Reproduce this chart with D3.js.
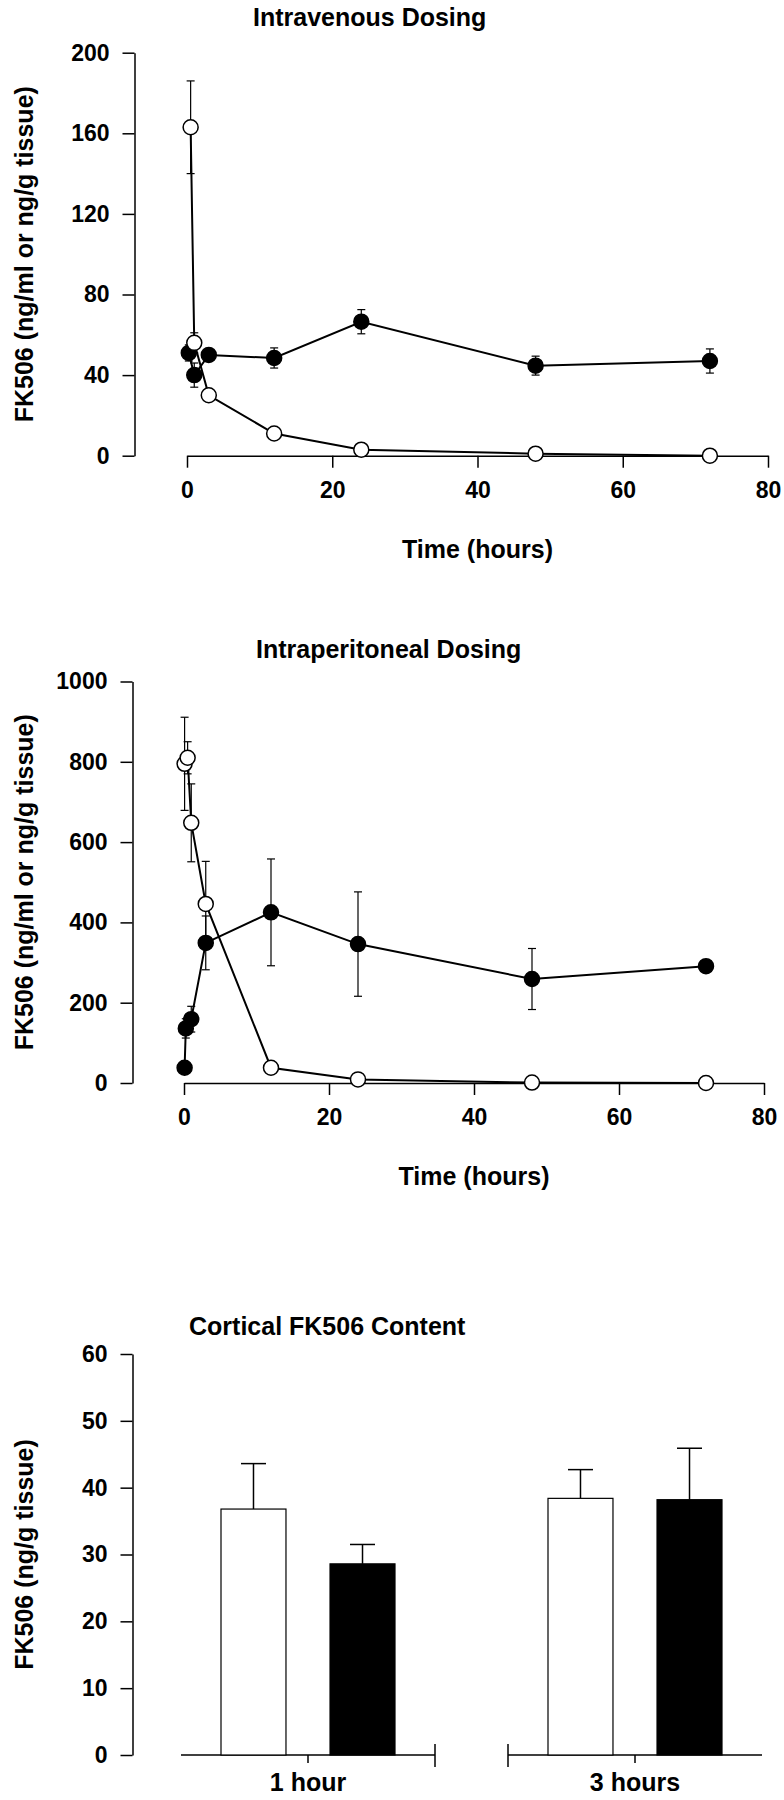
<!DOCTYPE html>
<html>
<head>
<meta charset="utf-8">
<script src="https://cdn.jsdelivr.net/npm/d3@7"></script>
<style>
body { margin: 0; background: #fff; }
text { font-family: "Liberation Sans", Arial, sans-serif; font-weight: bold; fill: #000; }
</style>
</head>
<body>
<svg id="chart" width="784" height="1800"></svg>
<script>
// intravenous dosing, open = plasma, filled = tissue
var ivOpenTime = [0.5, 1, 3, 12, 24, 48, 72];
var ivOpen = [163, 56, 30, 11, 3, 1, 0];
var ivOpenErr = [23, 5, 0, 0, 0, 0, 0];
var ivFilledTime = [0.25, 1, 3, 12, 24, 48, 72];
var ivFilled = [51, 40, 50, 48.5, 66.5, 44.7, 47];
var ivFilledErr = [4, 6, 0, 5, 6, 4.7, 6];

// intraperitoneal dosing
var ipOpenTime = [0.083, 0.5, 1, 3, 12, 24, 48, 72];
var ipOpen = [795, 810, 648, 446, 38, 9, 1, 0];
var ipOpenErr = [116, 40, 97, 106, 0, 0, 0, 0];
var ipFilledTime = [0.083, 0.25, 1, 3, 12, 24, 48, 72];
var ipFilled = [38, 136, 159, 349, 425, 346, 259, 291];
var ipFilledErr = [0, 24, 32, 67, 133, 130, 76, 10];

// cortical content
var cortCats = ["1 hour", "3 hours"];
var cortOpen = [36.8, 38.4];
var cortOpenErr = [6.8, 4.3];
var cortFilled = [28.6, 38.2];
var cortFilledErr = [2.9, 7.7];

var timeTicks = [0, 20, 40, 60, 80];
var ivTicks = [0, 40, 80, 120, 160, 200];
var ipTicks = [0, 200, 400, 600, 800, 1000];
var cortTicks = [0, 10, 20, 30, 40, 50, 60];

var svg = d3.select("#chart");

function styleAxis(a) {
    a.attr("font-family", null).attr("font-size", null);
    a.selectAll("path, line").attr("stroke", "#000").attr("stroke-width", 1.5);
    a.selectAll("text").style("font-size", "23px");
}

function yLabel(text, cy) {
    svg.append("text").text(text)
        .attr("transform", "translate(33," + cy + ") rotate(-90)")
        .attr("text-anchor", "middle")
        .style("font-size", "25px");
}

function drawSeries(g, x, y, times, vals, errs, filled) {
    var pts = times.map(function (t, i) { return {t: t, v: vals[i], e: errs[i]}; });
    var eb = g.selectAll(null).data(pts.filter(function (d) { return d.e > 0; })).enter().append("g");
    eb.append("line")
        .attr("x1", function (d) { return x(d.t); }).attr("x2", function (d) { return x(d.t); })
        .attr("y1", function (d) { return y(d.v - d.e); }).attr("y2", function (d) { return y(d.v + d.e); })
        .style("stroke", "#000").style("stroke-width", 1.2);
    [-1, 1].forEach(function (s) {
        eb.append("line")
            .attr("x1", function (d) { return x(d.t) - 4; }).attr("x2", function (d) { return x(d.t) + 4; })
            .attr("y1", function (d) { return y(d.v + s * d.e); }).attr("y2", function (d) { return y(d.v + s * d.e); })
            .style("stroke", "#000").style("stroke-width", 1.2);
    });
    g.append("path").datum(pts)
        .attr("d", d3.line().x(function (d) { return x(d.t); }).y(function (d) { return y(d.v); }))
        .style("fill", "none").style("stroke", "#000").style("stroke-width", 2);
    g.selectAll(null).data(pts).enter().append("circle")
        .attr("cx", function (d) { return x(d.t); })
        .attr("cy", function (d) { return y(d.v); })
        .attr("r", 7.5)
        .style("fill", filled ? "#000" : "#fff")
        .style("stroke", "#000").style("stroke-width", 1.5);
}

function timeCourse(o) {
    var x = d3.scaleLinear().domain([0, 80]).range(o.xRange);
    var y = d3.scaleLinear().domain([0, o.yMax]).range(o.yRange);
    var g = svg.append("g");

    g.append("text").text(o.title).attr("x", o.titleX).attr("y", o.titleY).style("font-size", "25px");

    g.append("g").attr("transform", "translate(" + o.axisX + ",0)")
        .call(d3.axisLeft(y).tickValues(o.yTicks).tickFormat(d3.format("d")).tickSize(12).tickSizeOuter(0).tickPadding(13))
        .call(styleAxis);
    g.append("g").attr("transform", "translate(0," + y(0) + ")")
        .call(d3.axisBottom(x).tickValues(timeTicks).tickSize(12).tickSizeOuter(0).tickPadding(14))
        .call(styleAxis);

    drawSeries(g, x, y, o.filled[0], o.filled[1], o.filled[2], true);
    drawSeries(g, x, y, o.open[0], o.open[1], o.open[2], false);

    g.append("text").text("Time (hours)")
        .attr("x", (o.xRange[0] + o.xRange[1]) / 2).attr("y", o.timeY)
        .attr("text-anchor", "middle").style("font-size", "25px");
    yLabel("FK506 (ng/ml or ng/g tissue)", (o.yRange[0] + o.yRange[1]) / 2);
}

timeCourse({
    title: "Intravenous Dosing", titleX: 253, titleY: 26,
    xRange: [187, 768], yRange: [455.7, 52.7], yMax: 200, yTicks: ivTicks, axisX: 134.5,
    timeY: 558,
    open: [ivOpenTime, ivOpen, ivOpenErr],
    filled: [ivFilledTime, ivFilled, ivFilledErr]
});

timeCourse({
    title: "Intraperitoneal Dosing", titleX: 256, titleY: 658,
    xRange: [184, 764], yRange: [1083, 681.5], yMax: 1000, yTicks: ipTicks, axisX: 132.5,
    timeY: 1185,
    open: [ipOpenTime, ipOpen, ipOpenErr],
    filled: [ipFilledTime, ipFilled, ipFilledErr]
});

// bar chart
function barChart() {
    var g = svg.append("g");
    var y = d3.scaleLinear().domain([0, 60]).range([1755, 1354]);
    var x0 = d3.scalePoint().domain(cortCats).range([308, 635]);
    var x1 = d3.scaleBand().domain(["open", "filled"]).range([-87, 87]).paddingInner(0.404);

    g.append("text").text("Cortical FK506 Content").attr("x", 189).attr("y", 1335).style("font-size", "25px");

    g.append("g").attr("transform", "translate(132.5,0)")
        .call(d3.axisLeft(y).tickValues(cortTicks).tickSize(12).tickSizeOuter(0).tickPadding(13))
        .call(styleAxis);

    // split x axis, one segment per group
    var seg = g.selectAll(".seg").data(cortCats).enter().append("g")
        .attr("transform", function (d) { return "translate(" + x0(d) + "," + y(0) + ")"; });
    seg.append("line").attr("x1", -127).attr("x2", 127).style("stroke", "#000").style("stroke-width", 1.5);
    seg.append("line").attr("y1", 0).attr("y2", 8).style("stroke", "#000").style("stroke-width", 1.5);
    seg.append("line")
        .attr("x1", function (d, i) { return i === 0 ? 127 : -127; })
        .attr("x2", function (d, i) { return i === 0 ? 127 : -127; })
        .attr("y1", -11).attr("y2", 12).style("stroke", "#000").style("stroke-width", 1.5);
    seg.append("text").text(function (d) { return d; })
        .attr("y", 36).attr("text-anchor", "middle").style("font-size", "25px");

    var series = [
        {key: "open", vals: cortOpen, errs: cortOpenErr, fill: "#fff"},
        {key: "filled", vals: cortFilled, errs: cortFilledErr, fill: "#000"}
    ];
    series.forEach(function (s) {
        var b = g.selectAll(null).data(cortCats).enter().append("g")
            .attr("transform", function (d) { return "translate(" + (x0(d) + x1(s.key)) + ",0)"; });
        var w = x1.bandwidth();
        b.append("line")
            .attr("x1", w / 2).attr("x2", w / 2)
            .attr("y1", function (d, i) { return y(s.vals[i]); })
            .attr("y2", function (d, i) { return y(s.vals[i] + s.errs[i]); })
            .style("stroke", "#000").style("stroke-width", 1.5);
        b.append("line")
            .attr("x1", w / 2 - 12.5).attr("x2", w / 2 + 12.5)
            .attr("y1", function (d, i) { return y(s.vals[i] + s.errs[i]); })
            .attr("y2", function (d, i) { return y(s.vals[i] + s.errs[i]); })
            .style("stroke", "#000").style("stroke-width", 1.5);
        b.append("rect")
            .attr("width", w)
            .attr("y", function (d, i) { return y(s.vals[i]); })
            .attr("height", function (d, i) { return y(0) - y(s.vals[i]); })
            .style("fill", s.fill).style("stroke", "#000").style("stroke-width", 1.2);
    });

    yLabel("FK506 (ng/g tissue)", (y(0) + y(60)) / 2);
}

barChart();
</script>
</body>
</html>
